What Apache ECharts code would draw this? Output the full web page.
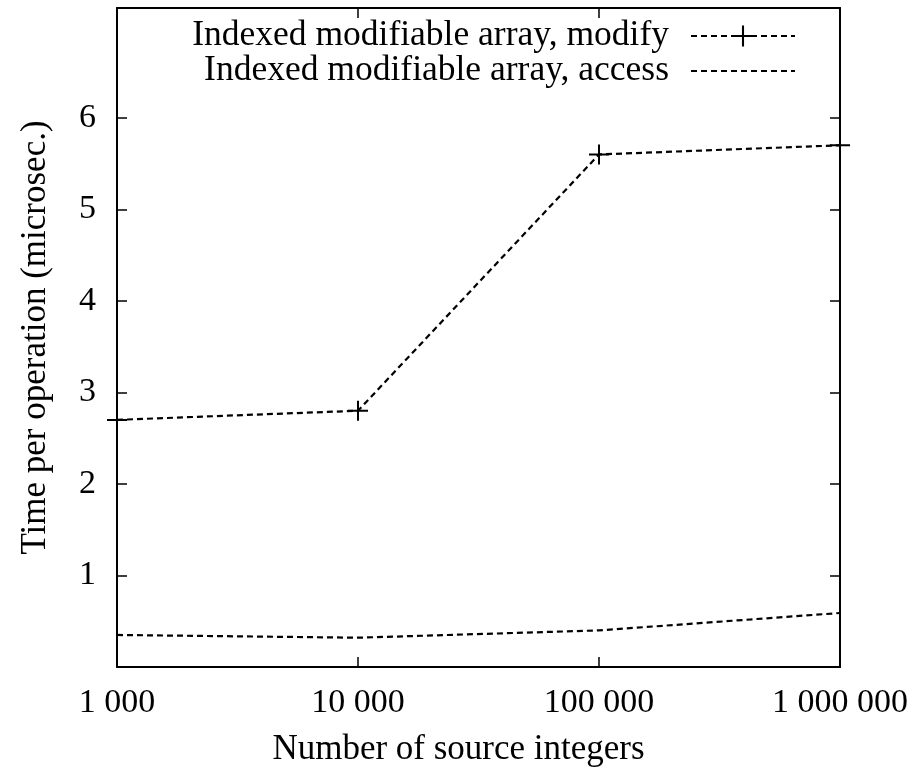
<!DOCTYPE html>
<html>
<head>
<meta charset="utf-8">
<script src="https://cdn.jsdelivr.net/npm/echarts@6/dist/echarts.min.js"></script>
<style>
html, body { margin: 0; padding: 0; background: #fff; }
#container { width: 915px; height: 774px; }
</style>
</head>
<body>
<div id="container"></div>
<script>
var myChart = echarts.init(document.getElementById("container"));

// number of source integers (log x)
var sizes = [1000, 10000, 100000, 1000000];
// time per operation, microsec.
var modifyTimes = [2.7, 2.8, 5.6, 5.7];
var accessTimes = [0.35, 0.32, 0.40, 0.59];
var yTicks = [1, 2, 3, 4, 5, 6];

var modifyName = "Indexed modifiable array, modify";
var accessName = "Indexed modifiable array, access";

var font = "Liberation Serif";
// gnuplot style "+" point
var plusPath = "path://M9,0h2v9h9v2h-9v9h-2v-9h-9v-2h9z";

function pairs(xs, ys) {
    return xs.map(function (x, i) {
        return [x, ys[i]];
    });
}

function spaced(v) {
    return String(v).replace(/\B(?=(\d{3})+(?!\d))/g, " ");
}

var axisLine = { show: true, onZero: false, lineStyle: { color: "#000", width: 2 } };
var tick = { show: true, inside: true, length: 10, lineStyle: { color: "#000", width: 1.5 } };
var legendBase = {
    orient: "horizontal",
    right: 119,
    padding: 0,
    align: "right",
    itemWidth: 104,
    itemHeight: 26,
    selectedMode: false,
    textStyle: { fontFamily: font, fontSize: 35.5, color: "#000", padding: [0, 17, 0, 0] }
};

myChart.setOption({
    animation: false,
    backgroundColor: "#fff",
    grid: { left: 117, right: 75, top: 8, bottom: 107 },
    legend: [
        echarts.util.merge({ top: 18, data: [modifyName] }, legendBase, false),
        echarts.util.merge({ top: 53, data: [{ name: accessName, itemStyle: { opacity: 0 } }] }, legendBase, false)
    ],
    xAxis: [
        {
            type: "log",
            logBase: 10,
            min: 1000,
            max: 1000000,
            position: "bottom",
            axisLine: axisLine,
            axisTick: tick,
            minorTick: { show: false },
            splitLine: { show: false },
            axisLabel: {
                margin: 19,
                fontFamily: font,
                fontSize: 34,
                color: "#000",
                formatter: function (v) { return spaced(v); }
            },
            name: "Number of source integers",
            nameLocation: "middle",
            nameGap: 65,
            nameTextStyle: { fontFamily: font, fontSize: 35, color: "#000", padding: [0, 40, 0, 0] }
        },
        {
            type: "log",
            logBase: 10,
            min: 1000,
            max: 1000000,
            position: "top",
            axisLine: axisLine,
            axisTick: tick,
            axisLabel: { show: false },
            splitLine: { show: false }
        }
    ],
    yAxis: [
        {
            type: "value",
            min: 0,
            max: 7.2,
            position: "left",
            axisLine: axisLine,
            axisTick: echarts.util.merge({ customValues: yTicks }, tick, false),
            splitLine: { show: false },
            axisLabel: {
                customValues: yTicks,
                margin: 21,
                fontFamily: font,
                fontSize: 34,
                color: "#000"
            },
            name: "Time per operation (microsec.)",
            nameLocation: "middle",
            nameGap: 64,
            nameTextStyle: { fontFamily: font, fontSize: 35, color: "#000" }
        },
        {
            type: "value",
            min: 0,
            max: 7.2,
            position: "right",
            axisLine: axisLine,
            axisTick: echarts.util.merge({ customValues: yTicks }, tick, false),
            splitLine: { show: false },
            axisLabel: { show: false }
        }
    ],
    series: [
        {
            name: modifyName,
            type: "line",
            data: pairs(sizes, modifyTimes),
            symbol: plusPath,
            symbolSize: 20,
            itemStyle: { color: "#000" },
            lineStyle: { color: "#000", width: 2.2, type: [6, 4] }
        },
        {
            name: accessName,
            type: "line",
            data: pairs(sizes, accessTimes),
            symbol: "none",
            itemStyle: { color: "#000" },
            lineStyle: { color: "#000", width: 2.2, type: [6, 4] }
        }
    ]
});
</script>
</body>
</html>
